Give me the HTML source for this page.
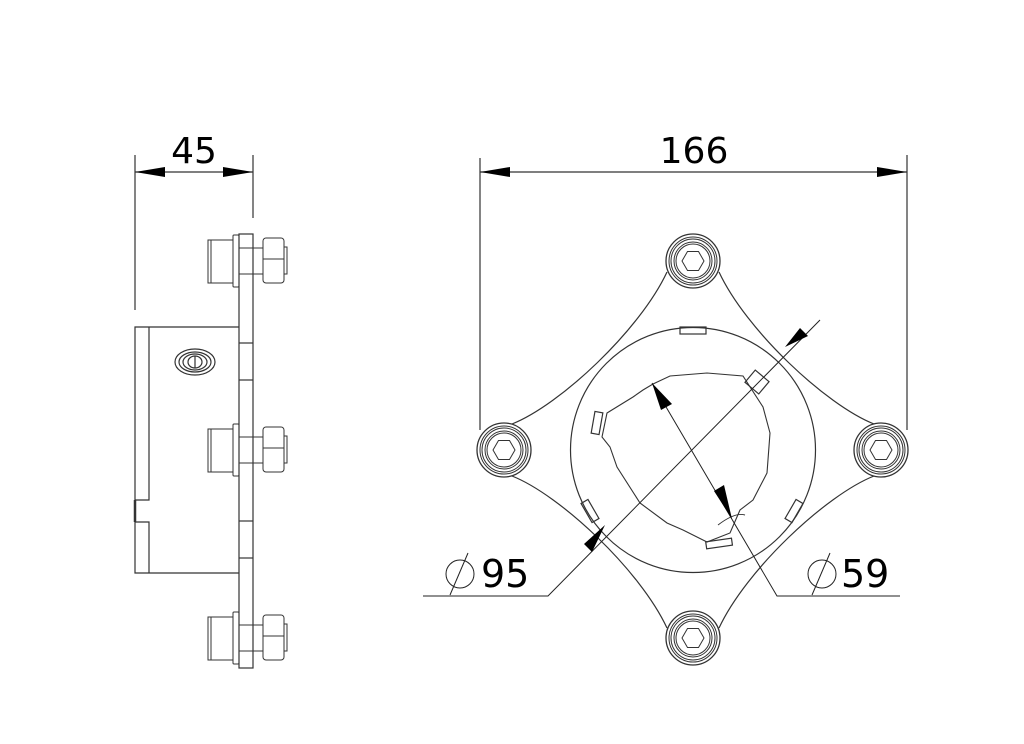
<!DOCTYPE html>
<html><head><meta charset="utf-8"><style>
html,body{margin:0;padding:0;background:#fff;}
svg{display:block;}
text{font-family:"DejaVu Sans","Liberation Sans",sans-serif;fill:#000;}
</style></head><body>
<svg width="1024" height="744" viewBox="0 0 1024 744" xmlns="http://www.w3.org/2000/svg">
<defs>
<g id="bolt" fill="none" stroke="#333" stroke-width="1">
<circle r="27" stroke-width="1.3"/><circle r="24"/><circle r="22"/><circle r="19"/><circle r="17"/>
<polygon points="11,0 5.5,9.5 -5.5,9.5 -11,0 -5.5,-9.5 5.5,-9.5"/>
</g>
<g id="sbolt" fill="none" stroke="#333" stroke-width="1">
<rect x="208" y="-21" width="25" height="43"/>
<line x1="211" y1="-21" x2="211" y2="22"/>
<rect x="233" y="-26" width="6" height="52" rx="1"/>
<line x1="253" y1="-13" x2="263" y2="-13"/><line x1="253" y1="13" x2="263" y2="13"/>
<rect x="263" y="-23" width="21" height="45" rx="3"/>
<line x1="263" y1="-2" x2="284" y2="-2"/>
<rect x="284" y="-14" width="3" height="27"/>
<line x1="239" y1="-13" x2="253" y2="-13"/><line x1="239" y1="13" x2="253" y2="13"/>
</g>
</defs>
<!-- LEFT VIEW -->
<g fill="none" stroke="#333" stroke-width="1.2">
<line x1="135" y1="155" x2="135" y2="310"/>
<line x1="253" y1="155" x2="253" y2="218"/>
<line x1="135" y1="172" x2="253" y2="172"/>
<rect x="239" y="234" width="14" height="434"/>
<polyline points="239,327 135,327 135,573 239,573"/>
<polyline points="149,327 149,500 135,500"/>
<polyline points="135,522 149,522 149,573"/>
<line x1="135" y1="500" x2="135" y2="522" stroke-width="2.5"/>
<line x1="239" y1="343" x2="253" y2="343"/><line x1="239" y1="380" x2="253" y2="380"/>
<line x1="239" y1="521" x2="253" y2="521"/><line x1="239" y1="558" x2="253" y2="558"/>
<ellipse cx="195" cy="362" rx="20" ry="13"/><ellipse cx="195" cy="362" rx="16" ry="10"/>
<ellipse cx="195" cy="362" rx="12" ry="8"/><ellipse cx="195" cy="362" rx="7" ry="6"/>
<line x1="195" y1="356" x2="195" y2="368"/>
</g>
<polygon points="135,172 165,167 165,177" fill="#000"/>
<polygon points="253,172 223,167 223,177" fill="#000"/>
<text x="194" y="163" font-size="36" text-anchor="middle">45</text>
<use href="#sbolt" transform="translate(0,261)"/>
<use href="#sbolt" transform="translate(0,450)"/>
<use href="#sbolt" transform="translate(0,638)"/>
<!-- RIGHT VIEW -->
<g fill="none" stroke="#333" stroke-width="1.2">
<line x1="480" y1="158" x2="480" y2="430"/>
<line x1="907" y1="155" x2="907" y2="430"/>
<line x1="480" y1="172" x2="907" y2="172"/>
<path id="q" d="M667,272 C640,330 560,405 512,424"/>
<use href="#q" transform="translate(1386,0) scale(-1,1)"/>
<use href="#q" transform="translate(0,900) scale(1,-1)"/>
<use href="#q" transform="translate(1386,900) scale(-1,-1)"/>
<circle cx="693" cy="450" r="122.5"/>
<path d="M653,384 L670,376 L707,373 L743,376 L763,407 L770,433 L767,473 L753,500 L740,510 L730,533 L707,542 L683,530 L667,523 L640,503 L617,467 L610,447 L602,437 L607,413 L633,397 L643,390 Z" stroke-width="1.1"/>
<path d="M718,525 Q735,512 745,515" stroke-width="1"/>
<rect x="680" y="327" width="26" height="7"/>
<rect x="706" y="540" width="26" height="7" transform="rotate(-8 719 543)"/>
<rect x="593" y="412" width="8" height="22" transform="rotate(10 597 423)"/>
<rect x="586" y="500" width="8" height="22" transform="rotate(-30 590 511)"/>
<rect x="790" y="500" width="8" height="22" transform="rotate(30 794 511)"/>
<rect x="748" y="374" width="18" height="16" transform="rotate(40 757 382)"/>
</g>
<g fill="none" stroke="#222" stroke-width="1">
<polyline points="820,320 548,596 423,596"/>
<polyline points="652,383 777,596 900,596"/>
<circle cx="460" cy="574" r="14"/><line x1="450" y1="595" x2="468" y2="553"/>
<circle cx="822" cy="574" r="14"/><line x1="812" y1="595" x2="830" y2="553"/>
</g>
<polygon points="907,172 877,167 877,177" fill="#000"/>
<polygon points="480,172 510,167 510,177" fill="#000"/>
<polygon points="785,347 800,328 808,336" fill="#000"/>
<polygon points="603,530 582,549 590,557" transform="translate(2,-5)" fill="#000"/>
<polygon points="652,383 661,410 672,404" fill="#000"/>
<polygon points="732,519 714,491 724,485" fill="#000"/>
<text x="694" y="163" font-size="36" text-anchor="middle">166</text>
<text x="481" y="587" font-size="38">95</text>
<text x="841" y="587" font-size="38">59</text>
<use href="#bolt" transform="translate(693,261)"/>
<use href="#bolt" transform="translate(693,638)"/>
<use href="#bolt" transform="translate(504,450)"/>
<use href="#bolt" transform="translate(881,450)"/>
</svg>
</body></html>
